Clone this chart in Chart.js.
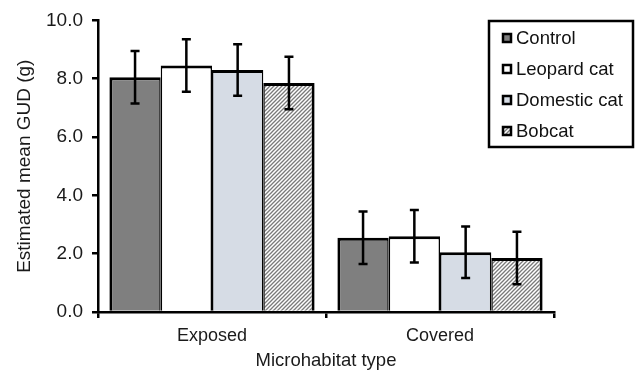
<!DOCTYPE html>
<html lang="en">
<head>
<meta charset="UTF-8">
<title>Estimated mean GUD by microhabitat</title>
<script src="https://cdn.jsdelivr.net/npm/chart.js"></script>
<style>
  body { margin: 0; background: #fff; }
</style>
</head>
<body>
<canvas id="gudChart" width="635" height="372"></canvas>
<script>
// categories and series
const habitats = ['Exposed', 'Covered'];
const treatments = ['Control', 'Leopard cat', 'Domestic cat', 'Bobcat'];
const controlGUD = [8.05, 2.55];
const leopardGUD = [8.45, 2.6];
const domesticGUD = [8.3, 2.05];
const bobcatGUD = [7.85, 1.85];
// error bar half-widths
const controlErr = [0.9, 0.9];
const leopardErr = [0.9, 0.9];
const domesticErr = [0.88, 0.88];
const bobcatErr = [0.9, 0.9];
const yTicks = [0, 2, 4, 6, 8, 10];

const FONT = "'Liberation Sans', Arial, sans-serif";

// hatch pattern for bobcat bars
function hatch() {
  const c = document.createElement('canvas');
  c.width = 4; c.height = 4;
  const g = c.getContext('2d');
  g.fillStyle = '#fff';
  g.fillRect(0, 0, 4, 4);
  g.strokeStyle = '#7a7a7a';
  g.lineWidth = 1.3;
  g.beginPath();
  g.moveTo(0, 4); g.lineTo(4, 0);
  g.moveTo(-1, 1); g.lineTo(1, -1);
  g.moveTo(3, 5); g.lineTo(5, 3);
  g.stroke();
  return g.createPattern(c, 'repeat');
}

const ctx = document.getElementById('gudChart').getContext('2d');

const series = [
  { label: treatments[0], data: controlGUD, err: controlErr, backgroundColor: '#7f7f7f',
    borderWidth: { left: 3, right: 1.5, top: 3, bottom: 0 } },
  { label: treatments[1], data: leopardGUD, err: leopardErr, backgroundColor: '#ffffff',
    borderWidth: { left: 1.5, right: 1.5, top: 3, bottom: 0 } },
  { label: treatments[2], data: domesticGUD, err: domesticErr, backgroundColor: '#d6dce5',
    borderWidth: { left: 1.5, right: 1.5, top: 3, bottom: 0 } },
  { label: treatments[3], data: bobcatGUD, err: bobcatErr, backgroundColor: hatch(),
    borderWidth: { left: 1.5, right: 3, top: 3, bottom: 0 } }
];
series.forEach(s => {
  s.borderColor = '#000';
  s.borderSkipped = false;
  s.categoryPercentage = 0.9;
  s.barPercentage = 1.0;
});

// draws the error bars on top of the bars
const errorBars = {
  id: 'errorBars',
  afterDatasetsDraw(chart) {
    const c = chart.ctx;
    const y = chart.scales.y;
    c.save();
    c.strokeStyle = '#000';
    c.lineWidth = 2.5;
    chart.data.datasets.forEach((ds, i) => {
      chart.getDatasetMeta(i).data.forEach((bar, j) => {
        const v = ds.data[j], e = ds.err[j];
        const top = y.getPixelForValue(v + e);
        const bot = y.getPixelForValue(v - e);
        const x = bar.x;
        c.beginPath();
        c.moveTo(x, top); c.lineTo(x, bot);
        c.moveTo(x - 4.5, top); c.lineTo(x + 4.5, top);
        c.moveTo(x - 4.5, bot); c.lineTo(x + 4.5, bot);
        c.stroke();
      });
    });
    c.restore();
  }
};

// boxed legend in the top right corner
const boxLegend = {
  id: 'boxLegend',
  afterDraw(chart) {
    const c = chart.ctx;
    const right = chart.width - 2, left = 489, top = 21, bottom = 147;
    c.save();
    c.fillStyle = '#fff';
    c.fillRect(left, top, right - left, bottom - top);
    c.strokeStyle = '#000';
    c.lineWidth = 2.5;
    c.strokeRect(left, top, right - left, bottom - top);
    c.font = '18.5px ' + FONT;
    c.textBaseline = 'middle';
    chart.data.datasets.forEach((ds, i) => {
      const cy = 38 + i * 31;
      c.fillStyle = ds.backgroundColor;
      c.fillRect(503, cy - 4, 8, 8);
      c.lineWidth = 2.5;
      c.strokeRect(503, cy - 4, 8, 8);
      c.fillStyle = '#111';
      c.fillText(ds.label, 516, cy + 1);
    });
    c.restore();
  }
};

new Chart(ctx, {
  type: 'bar',
  data: { labels: habitats, datasets: series },
  options: {
    responsive: false,
    animation: false,
    devicePixelRatio: 1,
    layout: { padding: { top: 20, right: 81, left: 0, bottom: 0 } },
    plugins: {
      legend: { display: false },
      tooltip: { enabled: false }
    },
    scales: {
      x: {
        offset: true,
        afterFit(scale) { scale.height = 60; },
        border: { color: '#000', width: 2.5 },
        grid: { offset: true, drawOnChartArea: false, color: '#000', lineWidth: 2.5, tickLength: 6 },
        ticks: { color: '#1a1a1a', font: { family: FONT, size: 18 }, padding: 7 },
        title: { display: true, text: 'Microhabitat type', color: '#1a1a1a',
                 font: { family: FONT, size: 18.5 }, padding: { top: 8, bottom: 0 } }
      },
      y: {
        min: 0,
        max: 10,
        afterFit(scale) { scale.width = 98; },
        afterBuildTicks(scale) { scale.ticks = yTicks.map(v => ({ value: v })); },
        border: { color: '#000', width: 2.5 },
        grid: { drawOnChartArea: false, color: '#000', lineWidth: 2.5, tickLength: 6 },
        ticks: { color: '#1a1a1a', font: { family: FONT, size: 19 }, padding: 9,
                 callback: v => v.toFixed(1) },
        title: { display: true, text: 'Estimated mean GUD (g)', color: '#1a1a1a',
                 font: { family: FONT, size: 19 }, padding: { top: 13, bottom: 0 } }
      }
    }
  },
  plugins: [errorBars, boxLegend]
});
</script>
</body>
</html>
